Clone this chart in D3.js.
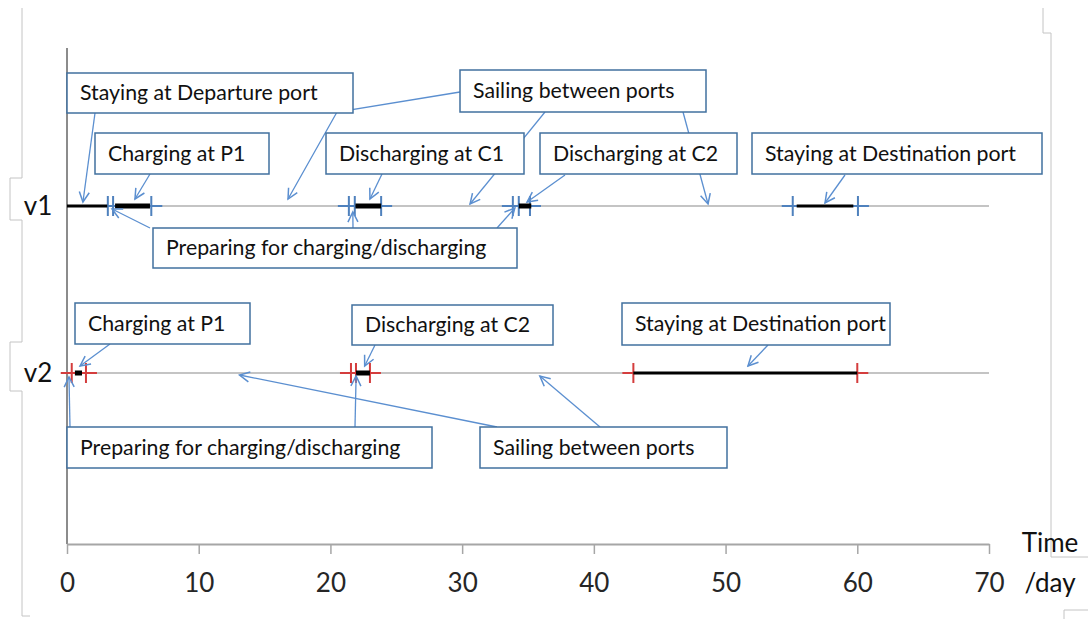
<!DOCTYPE html>
<html><head><meta charset="utf-8">
<script src="https://cdn.jsdelivr.net/npm/d3@7"></script>
<style>body{margin:0;background:#fff} svg{display:block}</style>
</head><body>
<svg id="c" width="1088" height="619"></svg>
<script>
// ---------- data ----------
const vessels = ["v1", "v2"];
const xTicks = [0, 10, 20, 30, 40, 50, 60, 70];
const axisTitle = ["Time", "/day"];
// event boundary marks (days)
const v1Marks = [3.1, 3.5, 6.4, 21.4, 21.85, 23.85, 33.85, 34.3, 35.15, 55.1, 60.05];
const v2Marks = [0.36, 1.44, 21.56, 21.94, 23.0, 43.0, 60.0];
// staying periods (days)
const v1Stay = [[0, 3.05], [55.4, 59.7]];
const v2Stay = [[43.0, 60.0]];
// charging / discharging periods (days)
const v1Work = [[3.65, 6.3], [21.9, 23.85], [34.3, 35.25]];
const v2Work = [[0.6, 1.14], [21.94, 23.0]];

// annotation texts and the (day, vessel) points they point to
const annTexts = [
  "Staying at Departure port", "Sailing between ports", "Charging at P1",
  "Discharging at C1", "Discharging at C2", "Staying at Destination port",
  "Preparing for charging/discharging",
  "Charging at P1", "Discharging at C2", "Staying at Destination port",
  "Preparing for charging/discharging", "Sailing between ports"
];
const annRows = ["v1","v1","v1","v1","v1","v1","v1","v2","v2","v2","v2","v2"];
const annTargets = [
  [1.21], [16.78, 30.6, 48.67], [5.16], [23.0], [34.93], [57.55],
  [3.42, 21.7, 34.0],
  [0.99], [22.6], [51.7], [0.15, 21.95], [13.1, 35.9]
];

// ---------- layout (pixels) ----------
const W = 1088, H = 619;
const X0 = 67, X1 = 989;
const AXIS_Y = 544;
const boxes = [
  [67, 73, 286, 40], [460, 70, 246, 42], [95, 133, 174, 41],
  [326, 133, 198, 41], [540, 133, 197, 41], [752, 133, 290, 41],
  [153, 228, 364, 40],
  [75, 303, 175, 41], [352, 305, 201, 40], [622, 303, 268, 42],
  [67, 427, 365, 41], [480, 427, 247, 41]
];
// arrow source points / elbows and vertical offsets at target
const arrowFrom = [
  [[95, 113]], [[[460, 92], [337, 112]], [545, 112], [683, 112]], [[150, 174]],
  [[382, 174]], [[565, 175]], [[845, 175]],
  [[150, 228], [353, 228], [497, 228]],
  [[110, 344]], [[375, 345]], [[768, 345]],
  [[70, 427], [355, 427]], [[497, 427], [600, 427]]
];
const arrowDy = [
  [-4], [-7, -2, -2], [-7], [-7], [-4], [-3],
  [3, 6, 2],
  [-7], [-7], [-7], [4, 3], [2, 3]
];

const BLUE = "#4f81bd", RED = "#d43d3d", BOXC = "#41709f", ARROW = "#5b8fd0";
const FONT = "Lato, 'Open Sans', sans-serif";

const svg = d3.select("#c");
const x = d3.scaleLinear().domain([0, 70]).range([X0, X1]);
const y = d3.scalePoint().domain(vessels).range([206, 373]);

// ---------- frame artefacts ----------
const frame = svg.append("g").attr("fill", "none").attr("stroke", "#c4c4c4").attr("stroke-width", 1);
frame.append("path").attr("d", "M22,8 V178 H10 V220 H22 V342 H10 V391 H22 V616 H30");
frame.append("path").attr("d", "M1043,8 V33 H1051 V557 H1088");
frame.append("path").attr("d", "M1064,619 V610 H1088");

// ---------- vessel lines ----------
svg.append("g").selectAll("line").data(vessels).join("line")
  .attr("x1", x(0)).attr("x2", x(70))
  .attr("y1", d => y(d)).attr("y2", d => y(d))
  .attr("stroke", "#c4c4c4").attr("stroke-width", 2);

// ---------- y axis line ----------
svg.append("line").attr("x1", X0).attr("x2", X0).attr("y1", 48).attr("y2", AXIS_Y)
  .attr("stroke", "#8c8c8c").attr("stroke-width", 2);

// ---------- x axis ----------
const xa = svg.append("g").attr("transform", `translate(0,${AXIS_Y})`)
  .call(d3.axisBottom(x).tickValues(xTicks).tickSize(10).tickSizeOuter(0).tickFormat(d3.format("d")));
xa.select(".domain").attr("stroke", "#a6a6a6").attr("stroke-width", 2);
xa.selectAll(".tick line").attr("stroke", "#a6a6a6").attr("stroke-width", 1.5);
xa.selectAll(".tick text").attr("y", 39).attr("dy", "0.35em")
  .attr("font-family", FONT).attr("font-size", 26).attr("fill", "#262626");

svg.append("g").selectAll("text").data(axisTitle).join("text")
  .attr("x", 1050).attr("y", (d, i) => 543 + i * 40).attr("dy", "0.35em")
  .attr("text-anchor", "middle").attr("font-family", FONT).attr("font-size", 26)
  .attr("fill", "#111").text(d => d);

// vessel labels
svg.append("g").selectAll("text").data(vessels).join("text")
  .attr("x", 38).attr("y", d => y(d)).attr("dy", "0.35em")
  .attr("text-anchor", "middle").attr("font-family", FONT).attr("font-size", 26)
  .attr("fill", "#111").text(d => d);

// ---------- marks (crosses) ----------
function drawMarks(marks, row, color) {
  const g = svg.append("g").attr("stroke", color).attr("stroke-width", 2);
  g.selectAll("path").data(marks).join("path")
    .attr("d", d => `M${x(d)},${y(row) - 10} V${y(row) + 10} M${x(d) - 11},${y(row)} H${x(d) + 11}`);
}
drawMarks(v1Marks, "v1", BLUE);
drawMarks(v2Marks, "v2", RED);

// ---------- activity segments (drawn over marks) ----------
function drawSegs(segs, row, w) {
  svg.append("g").selectAll("line").data(segs).join("line")
    .attr("x1", d => x(d[0])).attr("x2", d => x(d[1]))
    .attr("y1", y(row)).attr("y2", y(row))
    .attr("stroke", "#000").attr("stroke-width", w);
}
drawSegs(v1Stay, "v1", 3);
drawSegs(v2Stay, "v2", 3);
drawSegs(v1Work, "v1", 5);
drawSegs(v2Work, "v2", 5);

// ---------- annotations ----------
const defs = svg.append("defs");
defs.append("marker").attr("id", "ah").attr("viewBox", "-12 -7 14 14")
  .attr("markerWidth", 14).attr("markerHeight", 14).attr("markerUnits", "userSpaceOnUse")
  .attr("refX", 0).attr("refY", 0).attr("orient", "auto")
  .append("path").attr("d", "M-10,-5 L0,0 L-10,5").attr("fill", "none")
  .attr("stroke", ARROW).attr("stroke-width", 1.5);

// measure font size
const probe = svg.append("text").attr("font-family", FONT).attr("font-size", 20).text(annTexts[0]);
const pw0 = probe.node().getComputedTextLength();
probe.text(annTexts[6]);
const pw1 = probe.node().getComputedTextLength();
probe.remove();
const annFs = 0.975 * 20 * ((243 / pw0) + (330 / pw1)) / 2;

const ag = svg.append("g");
annTexts.forEach((t, i) => {
  annTargets[i].forEach((day, j) => {
    const src = arrowFrom[i][j];
    const pts = Array.isArray(src[0]) ? src.slice() : [src];
    pts.push([x(day), y(annRows[i]) + arrowDy[i][j]]);
    ag.append("path").attr("d", d3.line()(pts)).attr("fill", "none")
      .attr("stroke", ARROW).attr("stroke-width", 1.3).attr("marker-end", "url(#ah)");
  });
});
annTexts.forEach((t, i) => {
  const [bx, by, bw, bh] = boxes[i];
  ag.append("rect").attr("x", bx).attr("y", by).attr("width", bw).attr("height", bh)
    .attr("fill", "#fff").attr("stroke", BOXC).attr("stroke-width", 1.5);
  ag.append("text").attr("x", bx + 13).attr("y", by + bh / 2).attr("dy", "0.35em")
    .attr("font-family", FONT).attr("font-size", annFs).attr("fill", "#111").text(t);
});
</script>
</body></html>
